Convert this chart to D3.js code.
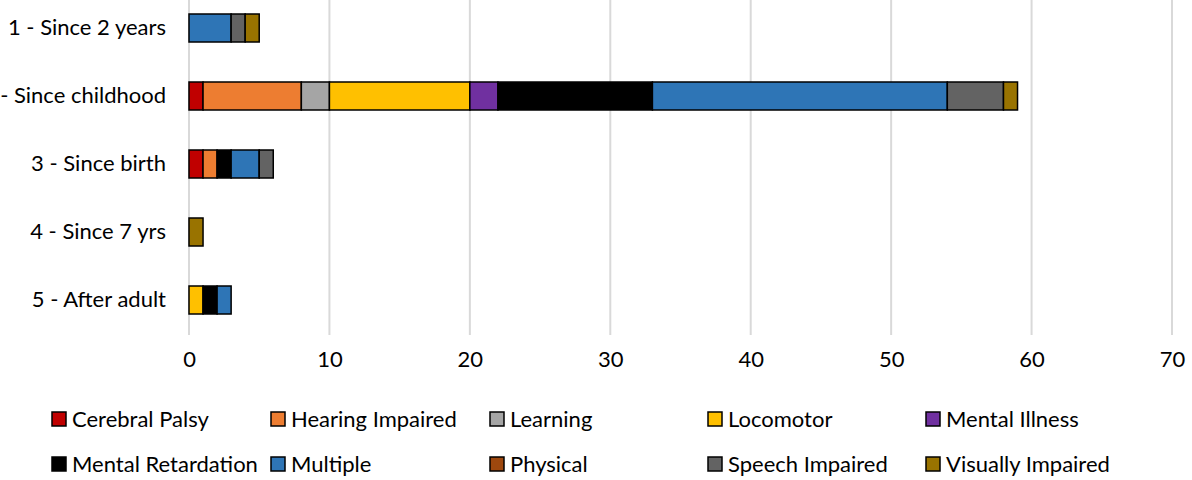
<!DOCTYPE html>
<html><head><meta charset="utf-8">
<script src="https://cdn.jsdelivr.net/npm/d3@7"></script>
<style>body{margin:0;background:#fff}svg{display:block}text{font-family:Lato,"Open Sans",sans-serif;fill:#000}</style>
</head><body><svg id="c" width="1192" height="480"></svg>
<script>
const categories = ["1 - Since 2 years","2 - Since childhood","3 - Since birth","4 - Since 7 yrs","5 - After adult"];
const seriesNames = ["Cerebral Palsy","Hearing Impaired","Learning","Locomotor","Mental Illness","Mental Retardation","Multiple","Physical","Speech Impaired","Visually Impaired"];
const seriesColors = ["#C00000","#ED7D31","#A5A5A5","#FFC000","#7030A0","#000000","#2E75B6","#9E480E","#636363","#997300"];
const cerebralPalsy     = [0,1,1,0,0];
const hearingImpaired   = [0,7,1,0,0];
const learning          = [0,2,0,0,0];
const locomotor         = [0,10,0,0,1];
const mentalIllness     = [0,2,0,0,0];
const mentalRetardation = [0,11,1,0,1];
const multiple          = [3,21,2,0,1];
const physical          = [0,0,0,0,0];
const speechImpaired    = [1,4,1,0,0];
const visuallyImpaired  = [1,1,0,1,0];
const xTicks = [0,10,20,30,40,50,60,70];

const seriesValues = [cerebralPalsy,hearingImpaired,learning,locomotor,mentalIllness,mentalRetardation,multiple,physical,speechImpaired,visuallyImpaired];
const rows = categories.map((c,i)=>{const o={cat:c};seriesNames.forEach((s,j)=>o[s]=seriesValues[j][i]);return o;});
const stacked = d3.stack().keys(seriesNames)(rows);

const svg = d3.select("#c");
const x = d3.scaleLinear().domain([0,70]).range([189,1172]);
const y = d3.scaleBand().domain(categories).range([-6,334]).paddingInner(40/68).paddingOuter(20/68);

// gridlines
svg.append("g").selectAll("line").data(xTicks).join("line")
  .attr("x1",d=>x(d)).attr("x2",d=>x(d)).attr("y1",0).attr("y2",335)
  .attr("stroke","#D9D9D9").attr("stroke-width",2);

// bars
svg.append("g").selectAll("g").data(stacked).join("g")
  .attr("fill",(d,i)=>seriesColors[i])
  .selectAll("rect").data(d=>d.filter(p=>p[1]-p[0]>0)).join("rect")
  .attr("x",d=>x(d[0])).attr("width",d=>x(d[1])-x(d[0]))
  .attr("y",d=>y(d.data.cat)).attr("height",y.bandwidth())
  .attr("stroke","#000").attr("stroke-width",1.5);

// x axis
const xa = svg.append("g").attr("transform","translate(0,351)")
  .call(d3.axisBottom(x).tickValues(xTicks).tickSize(0).tickPadding(0));
xa.select(".domain").remove();
xa.selectAll("text").attr("font-size",22).attr("font-family","Lato").attr("dy","0.71em").attr("fill","#000");

// y axis
const ya = svg.append("g").attr("transform","translate(166,0)")
  .call(d3.axisLeft(y).tickSize(0).tickPadding(0));
ya.select(".domain").remove();
ya.selectAll("text").attr("font-size",22).attr("font-family","Lato").attr("fill","#000");

// legend
const colX = [52,271,490,708,926];
const rowY = [419,464];
const lg = svg.append("g").selectAll("g").data(seriesNames).join("g")
  .attr("transform",(d,i)=>`translate(${colX[i%5]},${rowY[Math.floor(i/5)]})`);
lg.append("rect").attr("x",0).attr("y",-7).attr("width",14).attr("height",14)
  .attr("fill",(d,i)=>seriesColors[i]).attr("stroke","#000").attr("stroke-width",1.5);
lg.append("text").attr("x",20).attr("dy","0.35em").attr("font-size",22).text(d=>d);
</script></body></html>
